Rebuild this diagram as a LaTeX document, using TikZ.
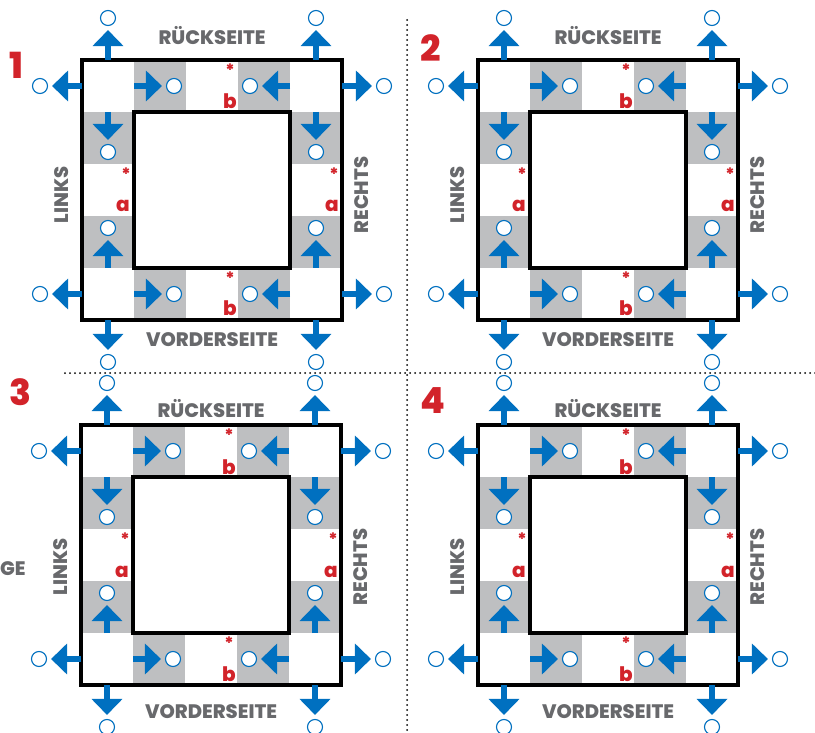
\documentclass[tikz,border=0pt]{standalone}
\usepackage{fontspec}
\setmainfont{Poppins}[BoldFont={Poppins ExtraBold}]
\usetikzlibrary{arrows.meta, positioning}
\definecolor{arrowblue}{RGB}{0,112,192}
\definecolor{cellgray}{RGB}{190,191,193}
\definecolor{labelgray}{RGB}{104,105,108}
\definecolor{markred}{RGB}{210,35,42}

\begin{document}
\begin{tikzpicture}[
        x=1pt, y=-1pt,
        every node/.style={font=\bfseries},
        cell/.style={fill=cellgray},
        frame/.style={draw=black, line width=3.2pt},
        port/.style={circle, draw=arrowblue, fill=white, line width=1.1pt, minimum size=15pt, inner sep=0pt},
        flow/.style={draw=arrowblue, line width=5.5pt, -{Triangle[width=30pt 0, length=16pt 0]}, shorten >=4pt},
        side/.style={text=labelgray, font=\bfseries\fontsize{19.5}{19.5}\selectfont},
        panelno/.style={text=markred, font=\bfseries\fontsize{36}{36}\selectfont},
        letter/.style={text=markred, font=\bfseries\fontsize{20}{20}\selectfont, anchor=base},
        starmark/.style={text=markred, font=\bfseries\fontsize{17}{17}\selectfont},
        divider/.style={line width=2pt, dash pattern=on 0pt off 5pt, line cap=round}
      ]
      % Page
      \fill[white] (0,0) rectangle (815,733);
      \useasboundingbox (0,0) rectangle (815,733);

      % Dotted dividers
      \draw[divider] (407,20) -- (407,733);
      \draw[divider] (65,373) -- (815,373);

      % Cut-off word on the left
      \node[side, anchor=west, inner sep=0pt] (cut) at (0,569) {GE};

      % The four panels
      \foreach \n/\ox/\oy/\nx/\ny/\ly in {1/82/60/16/65/0, 2/478/60/431/48/0, 3/81/425/20/392/7, 4/478/425/433/401/7}{
        \node[panelno] (no\n) at (\nx,\ny) {\n};
        \begin{scope}[shift={(\ox,\oy)}]
          % grey cells
          \foreach \c/\r in {1/0, 3/0, 0/1, 4/1, 0/3, 4/3, 1/4, 3/4}
            \fill[cell] (\c*52,\r*52) rectangle ++(52,52);

          % frames
          \draw[frame] (0,0) rectangle (260,260);
          \draw[frame, fill=white] (52,52) rectangle (208,208);

          % arrows to the circles
          \foreach \k/\sx/\sy/\ex/\ey in {
              a/52/26/92/26, b/208/26/168/26, c/26/52/26/92, d/234/52/234/92,
              e/26/208/26/168, f/234/208/234/168, g/52/234/92/234, h/208/234/168/234,
              i/26/0/26/-42, j/0/26/-42/26, k/234/0/234/-42, l/260/26/302/26,
              m/26/260/26/302, o/0/234/-42/234, q/234/260/234/302, r/260/234/302/234}{
            \coordinate (p\n-\k-s) at (\sx,\sy);
            \node[port] (p\n-\k) at (\ex,\ey) {};
            \draw[flow] (p\n-\k-s) -- (p\n-\k);
          }

          % sides
          \node[side, anchor=base] (p\n-back) at (130,-15+\ly) {RÜCKSEITE};
          \node[side, anchor=base] (p\n-front) at (130,286+\ly) {VORDERSEITE};
          \node[side, rotate=90] (p\n-left) at (-20,135+\ly) {LINKS};
          \node[side, rotate=90] (p\n-right) at (280,135+\ly) {RECHTS};

          % marks in the middle cells
          \node[starmark] (p\n-st) at (148,10) {*};
          \node[letter] (p\n-lt) at (148,49) {b};
          \node[starmark] (p\n-sl) at (44,114) {*};
          \node[letter] (p\n-ll) at (41,152) {a};
          \node[starmark] (p\n-sr) at (252,114) {*};
          \node[letter] (p\n-lr) at (250,152) {a};
          \node[starmark] (p\n-sb) at (148,218) {*};
          \node[letter] (p\n-lb) at (148,256) {b};
        \end{scope}
      }
    \end{tikzpicture}
\end{document}
